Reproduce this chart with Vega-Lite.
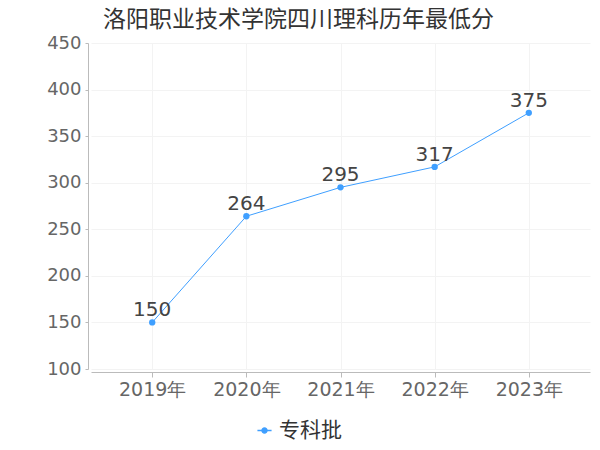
{
  "$schema": "https://vega.github.io/schema/vega-lite/v6.json",
  "width": 499,
  "height": 326,
  "autosize": {"type": "none"},
  "padding": {"left": 91, "top": 43, "right": 10, "bottom": 81},
  "background": "white",
  "config": {
    "font": "DejaVu Sans",
    "view": {"stroke": null}
  },
  "title": {
    "text": "洛阳职业技术学院四川理科历年最低分",
    "fontSize": 23,
    "fontWeight": "normal",
    "color": "#333333",
    "anchor": "middle",
    "dx": -42,
    "offset": 2,
    "font": "Noto Sans CJK SC"
  },
  "data": {
    "values": [
      {"year": "2019年", "score": 150, "batch": "专科批"},
      {"year": "2020年", "score": 264, "batch": "专科批"},
      {"year": "2021年", "score": 295, "batch": "专科批"},
      {"year": "2022年", "score": 317, "batch": "专科批"},
      {"year": "2023年", "score": 375, "batch": "专科批"}
    ]
  },
  "encoding": {
    "x": {
      "field": "year",
      "type": "ordinal",
      "scale": {"type": "point", "padding": 0.65},
      "axis": {
        "title": null,
        "labelAngle": 0,
        "labelFontSize": 19,
        "labelColor": "#666666",
        "domainColor": "#bbbbbb",
        "tickColor": "#bbbbbb",
        "tickSize": 5,
        "labelPadding": 3,
        "offset": 3,
        "grid": true,
        "gridColor": "#f3f3f3"
      }
    },
    "y": {
      "field": "score",
      "type": "quantitative",
      "scale": {"domain": [100, 450], "nice": false, "zero": false},
      "axis": {
        "title": null,
        "values": [100, 150, 200, 250, 300, 350, 400, 450],
        "labelFontSize": 18,
        "labelColor": "#666666",
        "domainColor": "#bbbbbb",
        "tickColor": "#bbbbbb",
        "tickSize": 3,
        "labelPadding": 4,
        "offset": 3,
        "gridColor": "#f3f3f3"
      }
    }
  },
  "layer": [
    {
      "mark": {"type": "line", "strokeWidth": 1, "point": {"size": 40, "filled": true}},
      "encoding": {
        "color": {
          "field": "batch",
          "type": "nominal",
          "scale": {"range": ["#3f9fff"]},
          "legend": {
            "title": null,
            "orient": "none",
            "legendX": 163,
            "legendY": 377,
            "labelFontSize": 21,
            "labelColor": "#333333",
            "labelFont": "Noto Sans CJK SC",
            "symbolType": "M-1,0L1,0M-0.35,0A0.35,0.35 0 1,1 0.35,0A0.35,0.35 0 1,1 -0.35,0Z",
            "symbolSize": 200,
            "symbolStrokeWidth": 1.5,
            "symbolFillColor": "#3f9fff",
            "symbolStrokeColor": "#3f9fff"
          }
        }
      }
    },
    {
      "mark": {"type": "text", "dy": -12, "fontSize": 20, "color": "#444444"},
      "encoding": {"text": {"field": "score", "type": "quantitative"}}
    }
  ]
}
